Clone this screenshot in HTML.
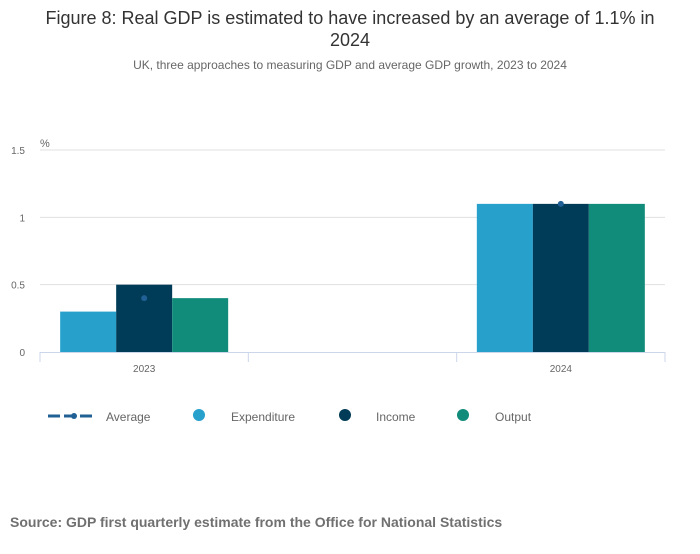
<!DOCTYPE html>
<html><head><meta charset="utf-8"><style>
body{margin:0;background:#fff;font-family:"Liberation Sans",sans-serif;}
svg text{font-family:"Liberation Sans",sans-serif;}
</style></head><body>
<svg width="700" height="549">
<rect width="700" height="549" fill="#fff"/>
<text x="350" y="24" text-anchor="middle" font-size="18" fill="#333">Figure 8: Real GDP is estimated to have increased by an average of 1.1% in</text>
<text x="350" y="46" text-anchor="middle" font-size="18" fill="#333">2024</text>
<text x="350" y="69" text-anchor="middle" font-size="12" fill="#666">UK, three approaches to measuring GDP and average GDP growth, 2023 to 2024</text>
<text x="40" y="147" font-size="11" fill="#666">%</text>
<g id="grid"></g><g id="bars"></g><g id="xaxis"></g>
<g font-size="12" fill="#666">
<g><line x1="48" y1="416" x2="93" y2="416" stroke="#206095" stroke-width="3" stroke-dasharray="12,4"/><circle cx="74" cy="416" r="3" fill="#206095"/><text x="106" y="421">Average</text></g>
<g><circle cx="199" cy="415" r="6" fill="#27a0cc"/><text x="231" y="421">Expenditure</text></g>
<g><circle cx="345" cy="415" r="6" fill="#003c57"/><text x="376" y="421">Income</text></g>
<g><circle cx="463" cy="415" r="6" fill="#118c7b"/><text x="495" y="421">Output</text></g>
</g>
<text x="10" y="527" font-size="14" font-weight="bold" fill="#707070">Source: GDP first quarterly estimate from the Office for National Statistics</text>
</svg>
<script>
const categories=["2023","2024"];
const expenditure=[0.3,1.1];
const income=[0.5,1.1];
const output=[0.4,1.1];
const average=[0.4,1.1];
const yTicks=[0,0.5,1,1.5];
const yLabels=["0","0.5","1","1.5"];
const NS="http://www.w3.org/2000/svg";
const x0=40,x1=665,yBase=352,yTop=150;
function y(v){return yBase-(v/1.5)*(yBase-yTop);}
function xc(i){return x0+(i+0.25)*(x1-x0)/1.5;}
function mk(t,a,p){const e=document.createElementNS(NS,t);for(const k in a)e.setAttribute(k,a[k]);p.appendChild(e);return e;}
const grid=document.getElementById('grid');
yTicks.forEach((v,i)=>{
 if(v>0){const l=mk('line',{x1:x0,x2:x1,y1:y(v),y2:y(v),stroke:'#e0e0e0'},grid);
 
 }
 const t=mk('text',{x:25,y:y(v)+4,'text-anchor':'end','font-size':'10',fill:'#666'},grid);t.textContent=yLabels[i];
 
 
});
const bars=document.getElementById('bars');
const series=[[expenditure,'#27a0cc','expenditure'],[income,'#003c57','income'],[output,'#118c7b','output']];
const bw=56;
categories.forEach((c,i)=>{
 series.forEach((s,j)=>{
  const bx=xc(i)-1.5*bw+j*bw;
  const r=mk('rect',{x:bx,y:y(s[0][i]),width:bw,height:yBase-y(s[0][i]),fill:s[1]},bars);
  
  
 });
 const d=mk('circle',{cx:xc(i),cy:y(average[i]),r:3,fill:'#206095'},bars);
 
 
});
const xa=document.getElementById('xaxis');
const ax=mk('line',{x1:x0,x2:x1,y1:yBase+0.5,y2:yBase+0.5,stroke:'#ccd6eb'},xa);


[-0.25,0.25,0.75,1.25].forEach(v=>{const xx=x0+(v+0.25)*(x1-x0)/1.5;
 const tk=mk('line',{x1:xx,x2:xx,y1:yBase,y2:yBase+10,stroke:'#ccd6eb'},xa);
 
 });
categories.forEach((c,i)=>{const t=mk('text',{x:xc(i),y:372,'text-anchor':'middle','font-size':'10',fill:'#666'},xa);t.textContent=c;
 
 });
</script>
</body></html>
